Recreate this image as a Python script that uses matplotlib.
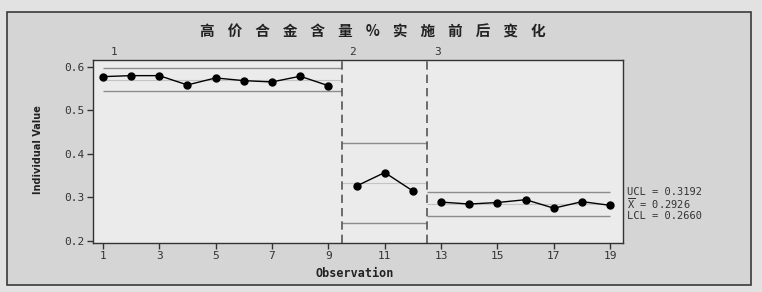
import matplotlib
matplotlib.use("Agg")
import matplotlib.pyplot as plt
from matplotlib.patches import Rectangle

plt.rcParams['font.family'] = ['DejaVu Sans']

# data
observation = list(range(1, 20))
value = [0.5776, 0.5799, 0.5799, 0.5585, 0.5746, 0.5684, 0.5654, 0.5785, 0.5568,
         0.3260, 0.3570, 0.3145,
         0.2890, 0.2845, 0.2880, 0.2945, 0.2750, 0.2900, 0.2815]
stage_names = ['1', '2', '3']
stage_first = [1, 10, 13]
stage_last = [9, 12, 19]
ucl = [0.598, 0.426, 0.312]
center = [0.571, 0.334, 0.285]
lcl = [0.544, 0.2415, 0.258]
limit_text = ['UCL = 0.3192', r'$\overline{\mathtt{X}}$ = 0.2926', 'LCL = 0.2660']
title = '高    价    合    金    含    量    %    实    施    前    后    变    化'
xticks = [1, 3, 5, 7, 9, 11, 13, 15, 17, 19]
yticks = [0.2, 0.3, 0.4, 0.5, 0.6]

fig = plt.figure(figsize=(7.62, 2.92), dpi=100, facecolor='#e2e2e2')
fig.patches.append(Rectangle((0.0092, 0.024), 0.976, 0.935, transform=fig.transFigure,
                             facecolor='#d5d5d5', edgecolor='#3a3a3a', lw=1.2,
                             zorder=-10))

ax = fig.add_axes([0.122, 0.168, 0.6955, 0.6267])
ax.set_facecolor('#ebebeb')

for i in range(len(stage_names)):
    a = stage_first[i] - 1
    b = stage_last[i]
    x0 = stage_first[i] - 0.5 if i > 0 else stage_first[i]
    x1 = stage_last[i] + 0.5 if i < len(stage_names) - 1 else stage_last[i]
    ax.hlines([ucl[i], lcl[i]], x0, x1, color='#8c8c8c', lw=1)
    ax.hlines(center[i], x0, x1, color='#c4c4c4', lw=0.8)
    ax.plot(observation[a:b], value[a:b], color='black', lw=1,
            marker='o', ms=5, zorder=3)
    if i > 0:
        ax.axvline(stage_first[i] - 0.5, color='#555555', lw=1.2, dashes=(5, 3))
    lx = 1.4 if i == 0 else stage_first[i] - 0.14
    ax.text(lx, 1.015, stage_names[i], transform=ax.get_xaxis_transform(),
            ha='center', va='bottom', fontsize=8, color='#333333',
            family='DejaVu Sans Mono')

# limit labels for the last stage
for y, t in zip([ucl[2], center[2], lcl[2]], limit_text):
    ax.annotate(t, xy=(1.008, y), xycoords=('axes fraction', 'data'),
                va='center', ha='left', fontsize=7.5, color='#333333',
                family='DejaVu Sans Mono', annotation_clip=False)

ax.set_xlim(0.65, 19.45)
ax.set_ylim(0.195, 0.616)
ax.set_xticks(xticks)
ax.set_yticks(yticks)
ax.set_yticklabels(['%.1f' % v for v in yticks])
ax.tick_params(direction='out', length=4, width=1, colors='#333333',
               labelsize=8, pad=2)
for lab in ax.get_xticklabels() + ax.get_yticklabels():
    lab.set_family('DejaVu Sans Mono')
for s in ax.spines.values():
    s.set_color('#333333')
    s.set_linewidth(1)

ax.set_ylabel('Individual Value', fontsize=7, fontweight='bold', color='#222222')
ax.yaxis.set_label_coords(-0.094, 0.508)
ax.set_xlabel('Observation', fontsize=8.5, fontweight='bold', color='#222222',
              family='DejaVu Sans Mono')
ax.xaxis.set_label_coords(0.494, -0.13)

fig.text(0.489, 0.893, title, ha='center', va='center', fontsize=10.5,
         fontweight='bold', color='#222222',
         family=['Noto Sans CJK SC', 'DejaVu Sans'])

fig.savefig('out.png', dpi=100, facecolor=fig.get_facecolor())
